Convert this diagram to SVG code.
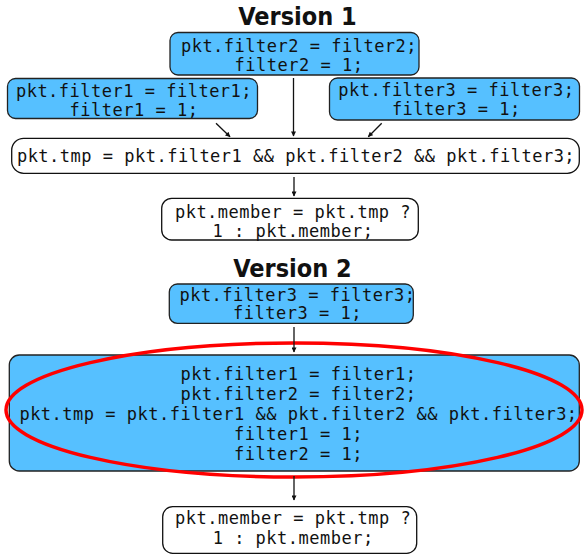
<svg xmlns="http://www.w3.org/2000/svg" width="584" height="556" viewBox="0 0 584 556">
<style>
.title{font-family:"DejaVu Sans Condensed","DejaVu Sans","Liberation Sans",sans-serif;font-weight:bold;font-size:25px;fill:#111;text-anchor:middle}
.code{font-family:"DejaVu Sans Mono","Liberation Mono",monospace;font-size:17px;letter-spacing:0.5px;fill:#111;text-anchor:middle}
.blue{fill:#56C0FF;stroke:#222;stroke-width:1.3}
.white{fill:#fff;stroke:#111;stroke-width:1.3}
.conn{stroke:#111;stroke-width:1.3;fill:none;marker-end:url(#ah)}
</style>
<defs>
<marker id="ah" viewBox="0 0 10 10" refX="9" refY="5" markerWidth="6" markerHeight="5" markerUnits="userSpaceOnUse" orient="auto">
<path d="M0,0 L10,5 L0,10 z" fill="#111"/>
</marker>
</defs>
<rect width="584" height="556" fill="#fff"/>
<text class="title" x="297.5" y="25">Version 1</text>
<g id="v1-filter2">
<rect class="blue" x="170" y="32.5" width="249" height="42.5" rx="8"/>
<text class="code" x="299" y="51.5">pkt.filter2 = filter2;</text>
<text class="code" x="299" y="71">filter2 = 1;</text>
</g>
<g id="v1-filter1">
<rect class="blue" x="7.5" y="78.5" width="250" height="40" rx="8"/>
<text class="code" x="134" y="96.5">pkt.filter1 = filter1;</text>
<text class="code" x="134" y="115.5">filter1 = 1;</text>
</g>
<g id="v1-filter3">
<rect class="blue" x="329.5" y="78" width="250" height="42" rx="8"/>
<text class="code" x="456.3" y="95.7">pkt.filter3 = filter3;</text>
<text class="code" x="456.3" y="115">filter3 = 1;</text>
</g>
<g id="v1-tmp">
<rect class="white" x="11.7" y="138.3" width="567.6" height="35" rx="12"/>
<text class="code" x="296" y="162.3">pkt.tmp = pkt.filter1 &amp;&amp; pkt.filter2 &amp;&amp; pkt.filter3;</text>
</g>
<g id="v1-member">
<rect class="white" x="161.7" y="198.3" width="256.6" height="41.7" rx="10"/>
<text class="code" x="293" y="217.5">pkt.member = pkt.tmp ?</text>
<text class="code" x="293" y="236.5">1 : pkt.member;</text>
</g>
<text class="title" x="292.5" y="277.3">Version 2</text>
<g id="v2-filter3">
<rect class="blue" x="169.3" y="284" width="244" height="39.3" rx="8"/>
<text class="code" x="297.5" y="300.7">pkt.filter3 = filter3;</text>
<text class="code" x="297.5" y="319.3">filter3 = 1;</text>
</g>
<g id="v2-merged">
<rect class="blue" x="9.3" y="355" width="570" height="116" rx="10"/>
<text class="code" x="298.5" y="379.5">pkt.filter1 = filter1;</text>
<text class="code" x="298.5" y="399.5">pkt.filter2 = filter2;</text>
<text class="code" x="298.5" y="419.5">pkt.tmp = pkt.filter1 &amp;&amp; pkt.filter2 &amp;&amp; pkt.filter3;</text>
<text class="code" x="298.5" y="439.5">filter1 = 1;</text>
<text class="code" x="298.5" y="459.5">filter2 = 1;</text>
</g>
<g id="v2-member">
<rect class="white" x="162.7" y="506.7" width="254" height="46.6" rx="10"/>
<text class="code" x="293.2" y="524">pkt.member = pkt.tmp ?</text>
<text class="code" x="293.2" y="544">1 : pkt.member;</text>
</g>
<g id="highlight">
<ellipse cx="294" cy="410" rx="288" ry="67" fill="none" stroke="#f00" stroke-width="3.5"/>
</g>
<g id="connectors">
<line class="conn" x1="293.5" y1="78" x2="293.5" y2="136"/>
<line class="conn" x1="216" y1="123.3" x2="230" y2="136.7"/>
<line class="conn" x1="381.7" y1="123.3" x2="368.3" y2="136.7"/>
<line class="conn" x1="294" y1="177" x2="294" y2="196"/>
<line class="conn" x1="294" y1="327" x2="294" y2="352"/>
<line class="conn" x1="294" y1="476" x2="294" y2="500"/>
</g>
</svg>
